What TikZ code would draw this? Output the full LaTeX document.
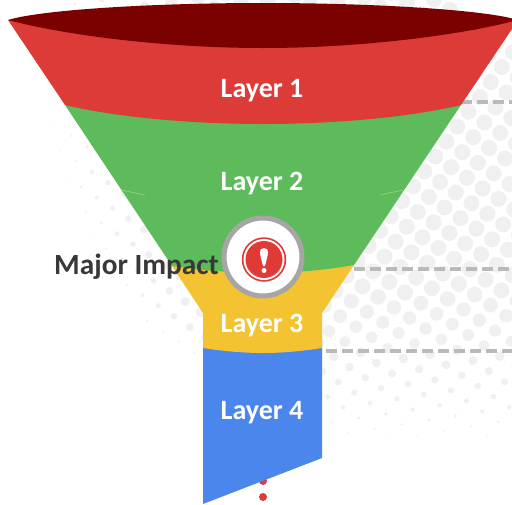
\documentclass[tikz,border=0pt]{standalone}
\usepackage{fontspec}
\setmainfont{Carlito}
\usepackage{xcolor}
\usetikzlibrary{positioning}
\definecolor{layerred}{HTML}{DD3B37}
\definecolor{layerdark}{HTML}{7B0000}
\definecolor{layergreen}{HTML}{5EBB5B}
\definecolor{layeryellow}{HTML}{F4C331}
\definecolor{layerblue}{HTML}{4A86EC}
\definecolor{iconred}{HTML}{E03A36}
\definecolor{dotgray}{HTML}{F0F0F0}
\tikzset{
  layerlabel/.style={font=\bfseries\fontsize{28}{32}\selectfont,text=white,inner sep=0pt},
  leader/.style={draw=black!27,line width=3.6pt,dash pattern=on 11.3pt off 4.7pt},
  reddot/.style={circle,fill=iconred,minimum size=8pt,inner sep=0pt},
}
\begin{document}
\begin{tikzpicture}[x=1pt,y=-1pt]
\useasboundingbox (0,0) rectangle (512,504);
\clip (0,0) rectangle (512,504);

% halftone
\foreach \i in {-24,...,14} {
\foreach \j in {-15,...,8} {
\pgfmathsetmacro{\dotx}{440+15.8*\i+11.1*\j}
\pgfmathsetmacro{\doty}{182+10.6*\i-14.9*\j}
\pgfmathsetmacro{\u}{-8-\j}
\pgfmathsetmacro{\edge}{\u>=0 ? -18+0.4*\u+0.14*\u*\u : -18+0.8*\u}
\pgfmathsetmacro{\dotr}{min(8,min(1+0.65*(\i-\edge),0.7+0.05*(439-\doty)))}
\pgfmathsetmacro{\dotr}{\j==-15 ? min(\dotr,1.1) : \dotr}
\ifdim\dotr pt>0.3pt
\fill[dotgray] (\dotx,\doty) circle (\dotr);
\fi
}
}

\coordinate(lead1a) at (461,102);
\coordinate(lead1b) at (512,102);
\coordinate(lead2a) at (354,269);
\coordinate(lead2b) at (512,269);
\coordinate(lead3a) at (326,351);
\coordinate(lead3b) at (512,351);
\draw[leader] (lead1a)--(lead1b);
\draw[leader] (lead2a)--(lead2b);
\draw[leader] (lead3a)--(lead3b);

\node(dot1) [reddot] at (263,481) {};
\node(dot2) [reddot] at (263,497) {};

% funnel
\fill[layerblue] (203,340)--(203,504)--(322,458)--(322,340)--cycle;
\fill[layeryellow] (172,266)--(203,313)--(203,348) .. controls (222,351) and (243,353) .. (263,353) .. controls (283,353) and (303,351) .. (322,348)--(322,313)--(354,265)--(263,250)--cycle;
\fill[layergreen] (65,105)--(172,266) .. controls (200,270) and (232,273) .. (263,273) .. controls (294,273) and (326,270) .. (354,265)--(461,105)--(263,90)--cycle;
\fill[layerred] (8,20)--(65,105) .. controls (115,117) and (190,124) .. (263,124) .. controls (336,124) and (411,117) .. (461,105)--(518,20)--(263,10)--cycle;
\fill[layerdark] (8,20) .. controls (40,10) and (150,3) .. (263,3) .. controls (376,3) and (486,10) .. (518,20) .. controls (466,34) and (366,48) .. (263,48) .. controls (160,48) and (60,34) .. (8,20)--cycle;

% seams in the green part
\draw[layergreen!60!white,line width=0.5pt] (121,190)--(145,195);
\draw[layergreen!60!white,line width=0.5pt] (380,195)--(403,190);

\node(layer1) [layerlabel] at (262,90.5)  {Layer 1};
\node(layer2) [layerlabel] at (262,183.5) {Layer 2};
\node(layer3) [layerlabel] at (262,325.5) {Layer 3};
\node(layer4) [layerlabel] at (262,412.5) {Layer 4};
\node(major)  [font=\bfseries\fontsize{29.3}{33}\selectfont,text=black!78,inner sep=0pt] at (136.5,267) {Major Impact};

% icon
\node(badge) [circle,draw=black!35,line width=5pt,fill=white,minimum size=78pt,inner sep=0pt] at (263,257) {};
\node(iconout) [circle,fill=iconred,minimum size=44.5pt,inner sep=0pt] at (264,259.5) {};
\node(iconring) [circle,fill=white,minimum size=41pt,inner sep=0pt] at (iconout) {};
\node(iconin) [circle,fill=iconred,minimum size=37pt,inner sep=0pt] at (iconout) {};
\fill[white] (264,248) .. controls (267,248) and (268.5,250) .. (268,253) .. controls (267.5,257) and (266,262) .. (265,266)--(263,266) .. controls (262,262) and (260.5,257) .. (260,253) .. controls (259.5,250) and (261,248) .. (264,248)--cycle;
\node(iconpoint) [circle,fill=white,minimum size=5pt,inner sep=0pt] at (264,270.5) {};
\end{tikzpicture}
\end{document}
